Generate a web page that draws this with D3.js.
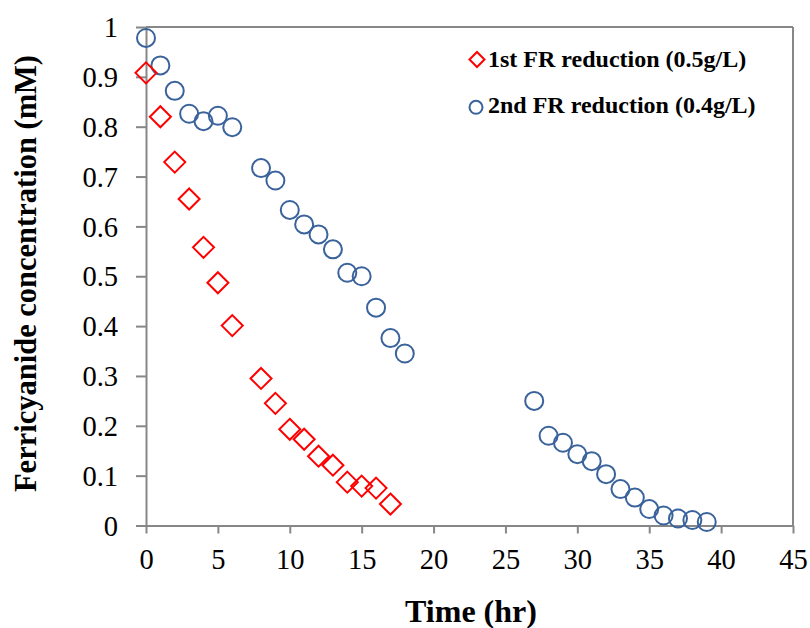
<!DOCTYPE html>
<html>
<head>
<meta charset="utf-8">
<script src="https://cdn.jsdelivr.net/npm/d3@7"></script>
<style>
  html, body { margin: 0; padding: 0; background: #fff; }
  svg text { font-family: "Times New Roman", "Liberation Serif", serif; fill: #000; }
</style>
</head>
<body>
<svg id="chart" width="810" height="628"></svg>
<script>
// Ferricyanide reduction runs: time (hr) and concentration (mM)
const firstTime = [0, 1, 2, 3, 4, 5, 6, 8, 9, 10, 11, 12, 13, 14, 15, 16, 17];
const firstConc = [0.908, 0.82, 0.729, 0.655, 0.558, 0.487, 0.401, 0.295, 0.245, 0.193, 0.173, 0.139, 0.121, 0.087, 0.079, 0.075, 0.043];

const secondTime = [0, 1, 2, 3, 4, 5, 6, 8, 9, 10, 11, 12, 13, 14, 15, 16, 17, 18,
                    27, 28, 29, 30, 31, 32, 33, 34, 35, 36, 37, 38, 39];
const secondConc = [0.978, 0.923, 0.872, 0.826, 0.811, 0.822, 0.799, 0.717, 0.692, 0.633, 0.604, 0.584, 0.554, 0.507, 0.500, 0.437, 0.376, 0.345,
                    0.250, 0.180, 0.166, 0.143, 0.129, 0.103, 0.073, 0.056, 0.033, 0.020, 0.014, 0.011, 0.007];

const xTicks = [0, 5, 10, 15, 20, 25, 30, 35, 40, 45];
const yTicks = [0, 0.1, 0.2, 0.3, 0.4, 0.5, 0.6, 0.7, 0.8, 0.9, 1];

const seriesNames = ["1st FR reduction (0.5g/L)", "2nd FR reduction (0.4g/L)"];
const xTitle = "Time (hr)";
const yTitle = "Ferricyanide concentration (mM)";

const RED = "#ff0000";
const BLUE = "#3a639b";
const AXIS = "#878787";
const SERIF = "'Times New Roman', 'Liberation Serif', serif";

const svg = d3.select("#chart");
const plot = { left: 146, right: 793, top: 27, bottom: 525.5 };

const x = d3.scaleLinear().domain([0, 45]).range([plot.left, plot.right]);
const y = d3.scaleLinear().domain([0, 1]).range([plot.bottom, plot.top]);

// frame: top and right borders
svg.append("line")
  .attr("x1", plot.left).attr("x2", plot.right)
  .attr("y1", plot.top).attr("y2", plot.top)
  .attr("stroke", AXIS).attr("stroke-width", 2);
svg.append("line")
  .attr("x1", plot.right).attr("x2", plot.right)
  .attr("y1", plot.top).attr("y2", plot.bottom)
  .attr("stroke", AXIS).attr("stroke-width", 2);

// x axis
const gx = svg.append("g")
  .attr("transform", `translate(0,${plot.bottom})`)
  .call(d3.axisBottom(x).tickValues(xTicks).tickFormat(d3.format("d")).tickSize(8).tickSizeOuter(0));
gx.select(".domain").attr("stroke", AXIS).attr("stroke-width", 2);
gx.selectAll(".tick line").attr("stroke", AXIS).attr("stroke-width", 2);
gx.selectAll(".tick text")
  .attr("y", 43.5).attr("dy", null)
  .attr("font-size", 28.5)
  .attr("font-family", SERIF);

// y axis
const gy = svg.append("g")
  .attr("transform", `translate(${plot.left},0)`)
  .call(d3.axisLeft(y).tickValues(yTicks)
    .tickFormat(d => d === 0 || d === 1 ? d3.format("d")(d) : d3.format(".1f")(d))
    .tickSize(10).tickSizeOuter(0));
gy.select(".domain").attr("stroke", AXIS).attr("stroke-width", 2);
gy.selectAll(".tick line").attr("stroke", AXIS).attr("stroke-width", 2);
gy.selectAll(".tick text")
  .attr("x", -28).attr("dy", "0.34em")
  .attr("font-size", 28.5)
  .attr("font-family", SERIF);

// axis titles
svg.append("text")
  .attr("x", 471).attr("y", 621.5)
  .attr("text-anchor", "middle")
  .attr("font-size", 32).attr("font-weight", "bold")
  .text(xTitle);
svg.append("text")
  .attr("transform", "translate(36,273.5) rotate(-90)")
  .attr("text-anchor", "middle")
  .attr("font-size", 30.5).attr("font-weight", "bold")
  .text(yTitle);

// 2nd run: open circles
const secondData = secondTime.map((t, i) => ({ t, c: secondConc[i] }));
svg.append("g").selectAll("circle")
  .data(secondData)
  .join("circle")
  .attr("cx", d => x(d.t))
  .attr("cy", d => y(d.c))
  .attr("r", 9)
  .attr("fill", "none")
  .attr("stroke", BLUE)
  .attr("stroke-width", 2);

// 1st run: open diamonds
const firstData = firstTime.map((t, i) => ({ t, c: firstConc[i] }));
const dHalf = 10.5;
svg.append("g").selectAll("path")
  .data(firstData)
  .join("path")
  .attr("d", d => {
    const cx = x(d.t), cy = y(d.c);
    return `M${cx},${cy - dHalf}L${cx + dHalf},${cy}L${cx},${cy + dHalf}L${cx - dHalf},${cy}Z`;
  })
  .attr("fill", "none")
  .attr("stroke", RED)
  .attr("stroke-width", 2);

// legend
const legend = svg.append("g");
const lh = 7.5;
legend.append("path")
  .attr("d", `M477,${59.5 - lh}L${477 + lh},59.5L477,${59.5 + lh}L${477 - lh},59.5Z`)
  .attr("fill", "none").attr("stroke", RED).attr("stroke-width", 2);
legend.append("text")
  .attr("x", 488).attr("y", 67)
  .attr("font-size", 24).attr("font-weight", "bold")
  .text(seriesNames[0]);
legend.append("circle")
  .attr("cx", 476).attr("cy", 107.3).attr("r", 6.5)
  .attr("fill", "none").attr("stroke", BLUE).attr("stroke-width", 2);
legend.append("text")
  .attr("x", 488).attr("y", 113)
  .attr("font-size", 24).attr("font-weight", "bold")
  .text(seriesNames[1]);
</script>
</body>
</html>
